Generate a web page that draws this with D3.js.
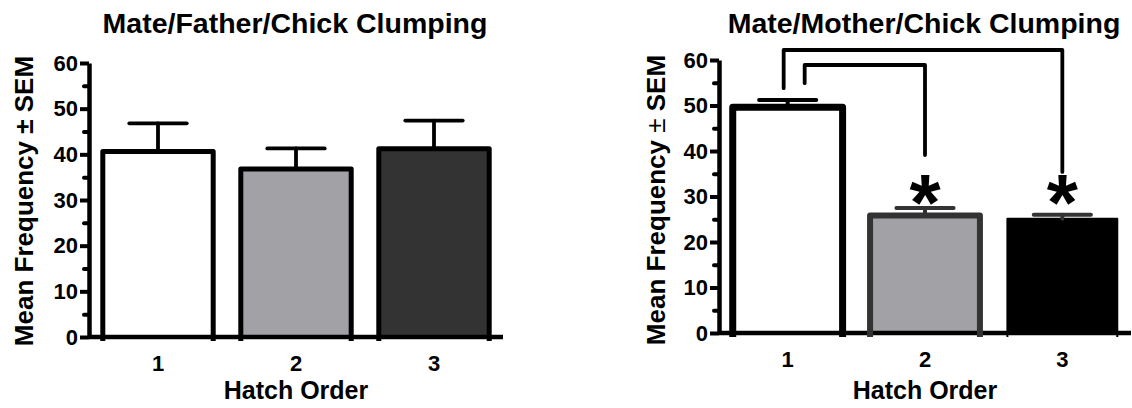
<!DOCTYPE html>
<html>
<head>
<meta charset="utf-8">
<script src="https://cdn.jsdelivr.net/npm/d3@7"></script>
<style>
  body { margin: 0; background: #fff; }
  text { font-family: "Liberation Sans", Arial, sans-serif; font-weight: bold; fill: #000; }
</style>
</head>
<body>
<div id="chart"></div>
<script>
// data
var categories = ["1", "2", "3"];
var fatherMeans = [40.6, 36.8, 41.2];
var fatherSEM = [6.2, 4.5, 6.2];
var motherMeans = [49.6, 25.8, 25.1];
var motherSEM = [1.6, 1.7, 0.9];
var yTicks = [0, 10, 20, 30, 40, 50, 60];
var yMinor = [5, 15, 25, 35, 45, 55];

// significance brackets (values in axis units), stars over groups 2 and 3
var brackets = [
  {from: "1", to: "3", top: 62.2, fromEnd: 53.8, toEnd: 35.4},
  {from: "1", to: "2", top: 58.9, fromEnd: 54.9, toEnd: 39.1}
];
var starred = ["2", "3"];
var starLevel = 30.1;

var W = 1132, H = 408;

var svg = d3.select("#chart").append("svg")
  .attr("width", W)
  .attr("height", H);

function drawPanel(opt) {
  var x = d3.scaleBand()
    .domain(categories)
    .range([opt.left, opt.right])
    .paddingInner(0.2)
    .paddingOuter(0.1);
  var y = d3.scaleLinear()
    .domain([0, 60])
    .range([opt.bottom, opt.top]);

  var g = svg.append("g");
  var rows = categories.map(function(c, i) {
    return {cat: c, mean: opt.means[i], sem: opt.sems[i], i: i};
  });

  // bar fills
  g.selectAll(".fill")
    .data(rows)
    .enter()
    .append("rect")
    .attr("x", function(d) { return x(d.cat); })
    .attr("width", x.bandwidth())
    .attr("y", function(d) { return y(d.mean); })
    .attr("height", function(d) { return y(0) - y(d.mean); })
    .attr("fill", function(d) { return opt.fills[d.i]; });

  // x axis line
  g.append("line")
    .attr("x1", opt.left).attr("x2", opt.right)
    .attr("y1", y(0)).attr("y2", y(0))
    .style("stroke", "#000")
    .style("stroke-width", "4.5px");

  // bar outlines, open at the bottom
  g.selectAll(".outline")
    .data(rows)
    .enter()
    .append("path")
    .attr("d", function(d) {
      var x0 = x(d.cat), x1 = x(d.cat) + x.bandwidth();
      return "M" + x0 + "," + (y(0) + 4) + "V" + y(d.mean) + "H" + x1 + "V" + (y(0) + 4);
    })
    .attr("fill", "none")
    .attr("stroke", function(d) { return opt.strokes[d.i]; })
    .attr("stroke-width", function(d) { return opt.strokeW[d.i]; })
    .attr("stroke-linejoin", "round");

  // error bars (upper half only)
  var eb = g.selectAll(".err")
    .data(rows)
    .enter()
    .append("g")
    .attr("stroke", function(d) { return opt.errColor[d.i]; })
    .attr("stroke-width", opt.errW)
    .attr("stroke-linecap", "round");
  eb.append("line")
    .attr("x1", function(d) { return x(d.cat) + x.bandwidth() / 2; })
    .attr("x2", function(d) { return x(d.cat) + x.bandwidth() / 2; })
    .attr("y1", function(d) { return y(d.mean); })
    .attr("y2", function(d) { return y(d.mean + d.sem); });
  eb.append("line")
    .attr("x1", function(d) { return x(d.cat) + x.bandwidth() * 0.24; })
    .attr("x2", function(d) { return x(d.cat) + x.bandwidth() * 0.76; })
    .attr("y1", function(d) { return y(d.mean + d.sem); })
    .attr("y2", function(d) { return y(d.mean + d.sem); });

  // y axis, major and minor ticks
  var yAxis = g.append("g")
    .attr("transform", "translate(" + opt.left + ",0)")
    .call(d3.axisLeft(y).tickValues(yTicks).tickSize(9).tickSizeOuter(0).tickPadding(2));
  yAxis.select(".domain").style("stroke-width", "4.5px").style("stroke", "#000");
  yAxis.selectAll(".tick line").style("stroke-width", "4px").style("stroke", "#000");
  yAxis.selectAll(".tick text")
    .style("font-size", "22px")
    .style("font-family", "'Liberation Sans', Arial, sans-serif")
    .style("font-weight", "bold");
  g.append("g")
    .attr("transform", "translate(" + opt.left + ",0)")
    .call(d3.axisLeft(y).tickValues(yMinor).tickSize(5).tickFormat(""))
    .call(function(s) {
      s.select(".domain").remove();
      s.selectAll(".tick line")
        .style("stroke-width", "4px")
        .style("stroke", "#000")
        .style("stroke-linecap", "round");
    });

  // x tick labels
  g.selectAll(".xlab")
    .data(categories)
    .enter()
    .append("text")
    .attr("x", function(d) { return x(d) + x.bandwidth() / 2; })
    .attr("y", y(0) + 34)
    .attr("text-anchor", "middle")
    .style("font-size", "22px")
    .text(function(d) { return d; });

  var mid = (opt.left + opt.right) / 2;
  g.append("text")
    .attr("x", mid).attr("y", 399)
    .attr("text-anchor", "middle")
    .style("font-size", "25px")
    .text("Hatch Order");

  g.append("text")
    .attr("x", mid - 1).attr("y", 33)
    .attr("text-anchor", "middle")
    .style("font-size", "28.5px")
    .text(opt.title);

  var yl = g.append("text")
    .attr("transform", "translate(" + opt.labelX + "," + opt.labelY + ") rotate(-90)")
    .attr("text-anchor", "middle")
    .style("font-size", "26px");
  yl.append("tspan").text("Mean Frequency ");
  yl.append("tspan").style("font-weight", opt.pmWeight).text("\u00b1");
  yl.append("tspan").text(" SEM");

  return {x: x, y: y, g: g};
}

drawPanel({
  left: 89, right: 503, top: 63, bottom: 337,
  means: fatherMeans, sems: fatherSEM,
  fills: ["#ffffff", "#a2a1a6", "#333333"],
  strokes: ["#000", "#000", "#000"],
  strokeW: [5, 5, 5],
  errColor: ["#000", "#000", "#000"],
  errW: 3.8,
  title: "Mate/Father/Chick Clumping",
  labelX: 33, labelY: 201, pmWeight: "bold"
});

var right = drawPanel({
  left: 719, right: 1131, top: 60, bottom: 333,
  means: motherMeans, sems: motherSEM,
  fills: ["#ffffff", "#a2a1a6", "#000000"],
  strokes: ["#000", "#333333", "#000"],
  strokeW: [7, 6, 2],
  errColor: ["#000", "#333333", "#333333"],
  errW: 4,
  title: "Mate/Mother/Chick Clumping",
  labelX: 665, labelY: 200, pmWeight: "normal"
});

// significance brackets on the right panel
var rx = right.x, ry = right.y, bw = rx.bandwidth();
right.g.selectAll(".bracket")
  .data(brackets)
  .enter()
  .append("path")
  .attr("d", function(d, i) {
    var xa = rx(d.from) + bw / 2 + (i === 0 ? -4 : 17);
    var xb = rx(d.to) + bw / 2;
    return "M" + xa + "," + ry(d.fromEnd) + "V" + ry(d.top) + "H" + xb + "V" + ry(d.toEnd);
  })
  .attr("fill", "none")
  .attr("stroke", "#000")
  .attr("stroke-width", 3.8)
  .attr("stroke-linejoin", "round")
  .attr("stroke-linecap", "round");

right.g.selectAll(".star")
  .data(starred)
  .enter()
  .append("text")
  .attr("x", function(d) { return rx(d) + bw / 2; })
  .attr("y", ry(starLevel) + 34)
  .attr("text-anchor", "middle")
  .style("font-size", "80px")
  .text("*");
</script>
</body>
</html>
